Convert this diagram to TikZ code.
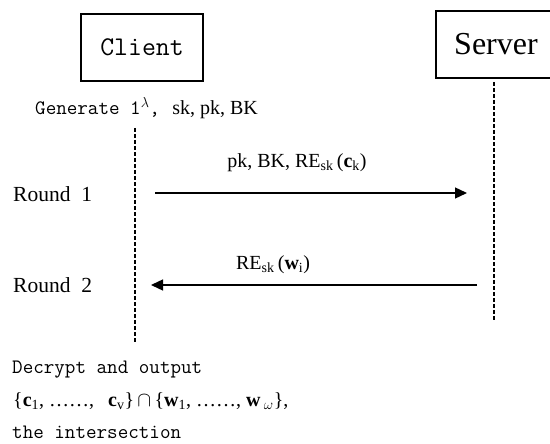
\documentclass[tikz,border=0pt]{standalone}
\usepackage{fontspec}
\setmainfont{Liberation Serif}
\usetikzlibrary{arrows.meta}
\begin{document}
\begin{tikzpicture}[x=1pt,y=-1pt,
  box/.style={draw, line width=1.3pt, inner sep=0pt},
  life/.style={dash pattern=on 4pt off 2pt, line width=1.6pt},
  msg/.style={line width=1.3pt, -{Triangle[length=12pt,width=11pt]}},
  mono/.style={font=\ttfamily\fontsize{20.5}{24}\selectfont, anchor=west, inner sep=0pt},
  ser/.style={font=\fontsize{20}{24}\selectfont, inner sep=0pt},
  rnd/.style={font=\fontsize{21.5}{24}\selectfont, anchor=west, inner sep=0pt}
]
\useasboundingbox (0,0) rectangle (550,444);
\node[box, minimum width=122pt, minimum height=67pt, font=\ttfamily\fontsize{27}{30}\selectfont] (client) at (142,47.5) {Client};
\node[box, minimum width=120pt, minimum height=67pt, font=\fontsize{32}{34}\selectfont] (server) at (496,44.5) {Server};
\node[mono] (gen) at (35,108) {Generate 1$^{\lambda}$,\hspace{0.6em}{\rmfamily\fontsize{20}{24}\selectfont sk, pk, BK}};
\coordinate (c1) at (135,128);
\coordinate (c2) at (135,343);
\coordinate (s1) at (494,82);
\coordinate (s2) at (494,321);
\draw[life] (c1) -- (c2);
\draw[life] (s1) -- (s2);
\coordinate (a1s) at (155,193);
\coordinate (a1e) at (467,193);
\coordinate (a2s) at (477,285);
\coordinate (a2e) at (151,285);
\draw[msg] (a1s) -- (a1e);
\draw[msg] (a2s) -- (a2e);
\node[ser] (lab1) at (297,163) {pk, BK, RE\textsubscript{sk}\,(\textbf{c}\textsubscript{k})};
\node[ser] (lab2) at (273,265) {RE\textsubscript{sk}\,(\textbf{w}\textsubscript{i})};
\node[rnd] (r1) at (13,194) {Round\hspace{0.5em}1};
\node[rnd] (r2) at (13,285) {Round\hspace{0.5em}2};
\node[mono] (dec) at (12,370) {Decrypt and output};
\node[ser, anchor=west, font=\fontsize{20}{24}\selectfont] (set) at (13,401) {\{\textbf{c}\textsubscript{1}, ……,\hspace{0.7em}\textbf{c}\textsubscript{v}\}\,$\cap$\,\{\textbf{w}\textsubscript{1}, ……, \textbf{w}\,\textsubscript{$\omega$}\},};
\node[mono] (inter) at (12,432) {the intersection};
\end{tikzpicture}
\end{document}
